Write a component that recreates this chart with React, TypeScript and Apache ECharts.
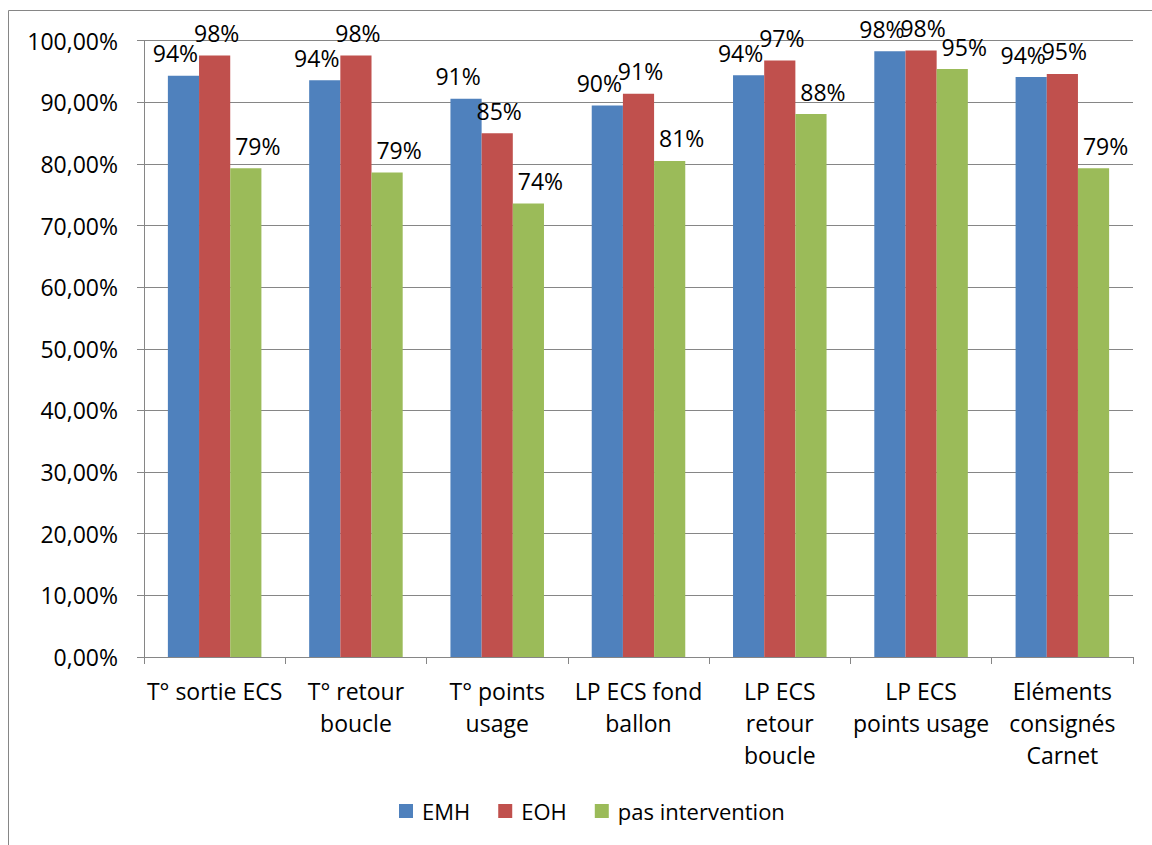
import React, { useEffect, useRef } from "react";
import * as echarts from "echarts";

// Share of compliant checks per item, in percent
const categories = [
  "T° sortie ECS",
  "T° retour\nboucle",
  "T° points\nusage",
  "LP ECS fond\nballon",
  "LP ECS\nretour\nboucle",
  "LP ECS\npoints usage",
  "Eléments\nconsignés\nCarnet",
];
const seriesNames = ["EMH", "EOH", "pas intervention"];
const emh = [94.3, 93.6, 90.6, 89.5, 94.4, 98.3, 94.1];
const eoh = [97.6, 97.6, 85.0, 91.4, 96.8, 98.4, 94.6];
const pasIntervention = [79.3, 78.6, 73.6, 80.5, 88.1, 95.4, 79.3];
const yTicks = { min: 0, max: 100, interval: 10 };

const colors = ["#4F81BD", "#C0504D", "#9BBB59"];
// value labels are wider than the bars: nudge the outer ones sideways
const labelShift = [-8, 2, 12];
const FONT = "Open Sans";
const GRAY = "#868686";

export default function App() {
  const ref = useRef<HTMLDivElement>(null);

  useEffect(() => {
    if (!ref.current) return;
    const chart = echarts.init(ref.current, undefined, { renderer: "svg" });
    const values = [emh, eoh, pasIntervention];

    chart.setOption({
      animation: false,
      textStyle: { fontFamily: FONT, color: "#000" },
      graphic: [
        {
          type: "rect",
          shape: { x: 8.5, y: 10.5, width: 1300, height: 1000 },
          style: { fill: "none", stroke: GRAY, lineWidth: 1 },
          silent: true,
        },
      ],
      grid: { left: 144, right: 19, top: 40.7, bottom: 188 },
      legend: {
        left: 394,
        top: 795,
        itemWidth: 14,
        itemHeight: 14,
        itemGap: 28,
        icon: "rect",
        textStyle: {
          fontFamily: FONT,
          fontSize: 22,
          lineHeight: 22,
          color: "#000",
          padding: [0, 0, 0, 4],
        },
        data: seriesNames,
      },
      xAxis: {
        type: "category",
        data: categories,
        axisLine: { lineStyle: { color: GRAY, width: 1 } },
        axisTick: { show: true, length: 7, lineStyle: { color: GRAY } },
        axisLabel: {
          interval: 0,
          margin: 18,
          fontFamily: FONT,
          fontSize: 23,
          lineHeight: 32,
          color: "#000",
        },
      },
      yAxis: {
        type: "value",
        min: yTicks.min,
        max: yTicks.max,
        interval: yTicks.interval,
        axisLine: { show: true, lineStyle: { color: GRAY, width: 1 } },
        axisTick: { show: true, length: 7, lineStyle: { color: GRAY } },
        splitLine: { lineStyle: { color: GRAY, width: 1 } },
        axisLabel: {
          margin: 26,
          fontFamily: FONT,
          fontSize: 23,
          color: "#000",
          formatter: (v: number) => v.toFixed(2).replace(".", ",") + "%",
        },
      },
      series: seriesNames.map((name, i) => ({
        name,
        type: "bar",
        data: values[i],
        barGap: "0%",
        barCategoryGap: "33.8%",
        itemStyle: { color: colors[i] },
        label: {
          show: true,
          position: "top",
          distance: 11,
          offset: [labelShift[i], 0],
          fontFamily: FONT,
          fontSize: 23,
          color: "#000",
          formatter: (p: any) => Math.round(p.value) + "%",
        },
      })),
    });

    return () => chart.dispose();
  }, []);

  return (
    <div
      ref={ref}
      style={{ position: "fixed", left: 0, top: 0, width: 1152, height: 845, background: "#fff" }}
    />
  );
}
